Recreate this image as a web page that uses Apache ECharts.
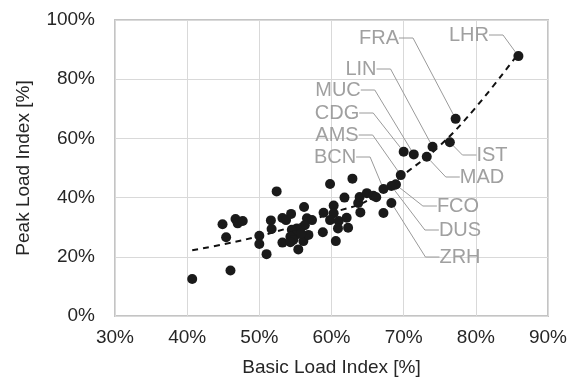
<!DOCTYPE html>
<html>
<head>
<meta charset="utf-8">
<script src="https://cdn.jsdelivr.net/npm/echarts@6/dist/echarts.min.js"></script>
<style>
  html, body { margin: 0; padding: 0; background: #fff; }
  #chart { width: 571px; height: 383px; }
</style>
</head>
<body>
<div id="chart"></div>
<script>
// unlabelled airports: basic load index / peak load index [%]
var basicLoad = [40.7, 46.0, 44.9, 45.4, 46.7, 47.0, 47.7, 50.0, 50.0, 51.0,
  51.6, 51.7, 52.4, 53.2, 53.7, 54.4, 56.2, 56.6, 57.3, 56.3,
  55.2, 54.5, 55.0, 54.3, 54.7, 53.2, 54.3, 55.4, 56.1, 56.8,
  55.8, 58.8, 58.9, 59.8, 60.3, 60.3, 59.8, 61.0, 60.9, 60.6,
  61.8, 62.1, 62.3, 62.9, 63.7, 63.9, 64.0, 64.9, 65.8, 66.2,
  67.2, 68.9];
var peakLoad = [12.5, 15.4, 31.0, 26.6, 32.8, 31.3, 32.1, 27.1, 24.3, 20.9,
  32.3, 29.4, 42.1, 33.1, 32.4, 34.5, 36.8, 33.0, 32.4, 30.7,
  29.6, 29.1, 27.4, 26.8, 25.7, 24.8, 24.9, 22.5, 25.3, 27.4,
  27.9, 28.3, 34.9, 44.6, 37.3, 34.7, 32.4, 32.1, 29.6, 25.3,
  40.0, 33.2, 29.8, 46.4, 38.2, 40.2, 35.0, 41.5, 40.6, 40.1,
  34.8, 44.4];

// labelled airports
var airports = ['LHR', 'FRA', 'IST', 'LIN', 'MAD', 'MUC', 'CDG', 'AMS', 'FCO', 'DUS', 'BCN', 'ZRH'];
var airportBasic = [85.9, 77.2, 76.4, 74.0, 73.2, 71.4, 70.0, 69.6, 68.9, 68.3, 67.2, 68.3];
var airportPeak = [87.8, 66.6, 58.7, 57.2, 53.8, 54.6, 55.5, 47.6, 44.4, 43.9, 42.9, 38.2];

// dashed trend line
var trendBasic = [40.7, 45, 50, 55, 60, 65, 70, 75, 80, 86];
var trendPeak = [22.2, 24.2, 27.0, 30.5, 34.8, 39.0, 47.8, 57.5, 70.5, 89];

var xTicks = [30, 40, 50, 60, 70, 80, 90];
var yTicks = [0, 20, 40, 60, 80, 100];

// label text centres in px (layout only)
var labelPos = {
  LHR: [469, 35], FRA: [379, 38], LIN: [361, 69], MUC: [338, 90],
  CDG: [337, 113], AMS: [337, 135], BCN: [335, 157],
  IST: [492, 155], MAD: [482, 177], FCO: [458, 206], DUS: [460, 230], ZRH: [460, 257]
};

var fontFam = 'Liberation Sans, Arial, sans-serif';

var chart = echarts.init(document.getElementById('chart'));

var points = basicLoad.map(function (b, i) { return [b, peakLoad[i]]; });
var named = airports.map(function (n, i) {
  return { name: n, value: [airportBasic[i], airportPeak[i]] };
});
var trend = trendBasic.map(function (b, i) { return [b, trendPeak[i]]; });

var option = {
  animation: false,
  grid: {
    left: 115,
    right: 23,
    top: 20,
    bottom: 67,
    show: true,
    borderColor: '#c4c4c4',
    borderWidth: 2
  },
  xAxis: {
    type: 'value',
    min: xTicks[0],
    max: xTicks[xTicks.length - 1],
    interval: 10,
    name: 'Basic Load Index [%]',
    nameLocation: 'middle',
    nameGap: 42,
    nameTextStyle: { color: '#262626', fontSize: 19, fontFamily: fontFam },
    axisLine: { show: false },
    axisTick: { show: false },
    axisLabel: {
      formatter: '{value}%',
      color: '#262626',
      fontSize: 19,
      fontFamily: fontFam,
      margin: 12
    },
    splitLine: { lineStyle: { color: '#d9d9d9', width: 1 } }
  },
  yAxis: {
    type: 'value',
    min: yTicks[0],
    max: yTicks[yTicks.length - 1],
    interval: 20,
    name: 'Peak Load Index [%]',
    nameLocation: 'middle',
    nameGap: 82,
    nameTextStyle: { color: '#262626', fontSize: 19, fontFamily: fontFam },
    axisLine: { show: false },
    axisTick: { show: false },
    axisLabel: {
      formatter: '{value}%',
      color: '#262626',
      fontSize: 19,
      fontFamily: fontFam,
      margin: 20
    },
    splitLine: { lineStyle: { color: '#d9d9d9', width: 1 } }
  },
  series: [
    {
      type: 'line',
      data: trend,
      smooth: 0.4,
      showSymbol: false,
      lineStyle: { color: '#111', width: 2, type: [6, 5] },
      z: 3
    },
    {
      type: 'scatter',
      data: points,
      symbolSize: 10,
      itemStyle: { color: '#1a1a1a', opacity: 1 },
      z: 4
    },
    {
      type: 'scatter',
      data: named,
      symbolSize: 10,
      itemStyle: { color: '#1a1a1a', opacity: 1 },
      z: 4,
      label: {
        show: true,
        formatter: '{b}',
        color: '#a0a0a0',
        fontSize: 20,
        fontFamily: fontFam
      },
      labelLine: {
        show: true,
        length2: 14,
        lineStyle: { color: '#9a9a9a', width: 1 }
      },
      labelLayout: function (params) {
        var p = labelPos[airports[params.dataIndex]];
        return { x: p[0], y: p[1], align: 'center', verticalAlign: 'middle' };
      }
    }
  ]
};

chart.setOption(option);
</script>
</body>
</html>
